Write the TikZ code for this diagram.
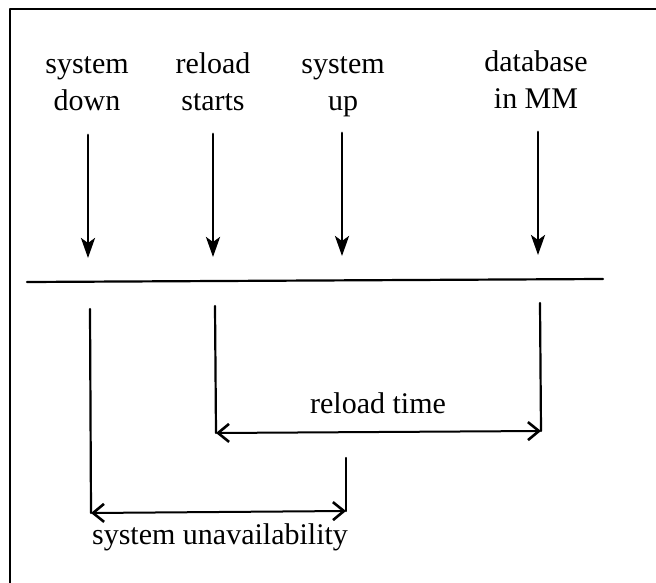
\documentclass[tikz,border=0pt]{standalone}
\usepackage{fontspec}
\setmainfont{Liberation Serif}
\usetikzlibrary{arrows.meta}
\begin{document}
\begin{tikzpicture}[line cap=round,line join=round,x=1pt,y=-1pt,
	lbl/.style={align=center,inner sep=0pt,font=\fontsize{30}{37}\selectfont},
	downarr/.style={line width=2.8pt,-{Stealth[length=20pt,width=14pt,inset=5pt]}},
	tick/.style={line width=2.2pt},
	span/.style={line width=2pt,{Straight Barb[length=11pt,width=18pt,line width=2.6pt]}-{Straight Barb[length=11pt,width=18pt,line width=2.6pt]}}]
			\useasboundingbox (0,0) rectangle (656,583);
			\draw [line width=2pt] (656,9)-- (10,9)-- (10,583);
			\node [lbl,anchor=north] (sdown) at (87,47) {\strut system\\down};
			\node [lbl,anchor=north] (rstart) at (213,47) {\strut reload\\starts};
			\node [lbl,anchor=north] (sup) at (343,47) {\strut system\\up};
			\node [lbl,anchor=north] (dbmm) at (536,45) {\strut database\\in MM};
			\coordinate (a1) at (88,135);
			\coordinate (a2) at (213,134);
			\coordinate (a3) at (342,133);
			\coordinate (a4) at (538,132);
			\coordinate (t1) at (88,258);
			\coordinate (t2) at (213,257);
			\coordinate (t3) at (342,256);
			\coordinate (t4) at (538,255);
			\draw [downarr] (a1)-- (t1);
			\draw [downarr] (a2)-- (t2);
			\draw [downarr] (a3)-- (t3);
			\draw [downarr] (a4)-- (t4);
			\coordinate (ll) at (27,282);
			\coordinate (lr) at (603,279);
			\draw [line width=2.2pt] (ll)-- (lr);
			\coordinate (m1) at (90,309);
			\coordinate (m2) at (215,306);
			\coordinate (m3) at (346,458);
			\coordinate (m4) at (540,303);
			\coordinate (r2) at (216,433);
			\coordinate (r4) at (541,431);
			\coordinate (u1) at (91,513);
			\coordinate (u3) at (346,511);
			\draw [tick] (m2)-- (r2);
			\draw [tick] (m4)-- (r4);
			\draw [span] (r2)-- (r4);
			\draw [tick] (m1)-- (u1);
			\draw [tick] (m3)-- (u3);
			\draw [span] (u1)-- (u3);
			\node [lbl,anchor=base] (rtime) at (378,413) {reload time};
			\node [lbl,anchor=base] (sunav) at (220,544) {system unavailability};
			\end{tikzpicture}
\end{document}
